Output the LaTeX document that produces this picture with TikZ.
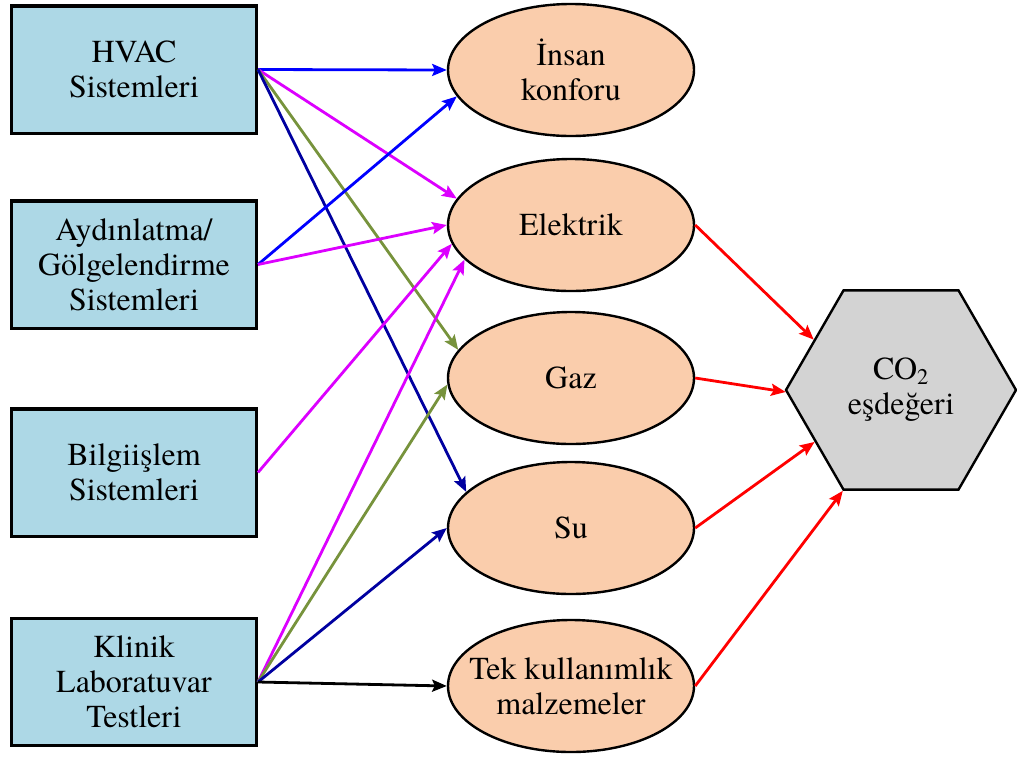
\documentclass[tikz,border=0pt]{standalone}
\usepackage{fontspec}
\setmainfont{texgyretermes}[Extension=.otf, UprightFont=*-regular]
\usetikzlibrary{shapes.geometric,arrows.meta}

\definecolor{boxblue}{RGB}{173,216,230}
\definecolor{peach}{RGB}{250,205,172}
\definecolor{hexgray}{RGB}{211,211,211}
\definecolor{linkblue}{RGB}{0,0,255}
\definecolor{linkmag}{RGB}{220,0,255}
\definecolor{linkgreen}{RGB}{119,147,60}
\definecolor{linknavy}{RGB}{0,0,160}
\definecolor{linkred}{RGB}{255,0,0}

\begin{document}
\begin{tikzpicture}[x=0.75pt,y=-0.75pt,
  font=\fontsize{24}{26.25}\selectfont,
  system/.style={rectangle, draw, line width=2.5pt, fill=boxblue,
    minimum width=183.5pt, minimum height=95.5pt, align=center},
  oval/.style={ellipse, draw, line width=1.8pt, fill=peach,
    minimum width=184.5pt, minimum height=99pt,
    inner xsep=-12pt, inner ysep=0pt, align=center},
  link/.style={-{Stealth[length=11pt,width=9pt,inset=2pt]}, line width=2.1pt}]
  \useasboundingbox (0,0) rectangle (1017,758);

  % systems
  \node[system] (hvac)   at (134,69.5)  {HVAC\\Sistemleri};
  \node[system] (aydin)  at (134,264.5) {Aydınlatma/\\Gölgelendirme\\Sistemleri};
  \node[system] (bilgi)  at (134,472.5) {Bilgiişlem\\Sistemleri};
  \node[system] (klinik) at (134,682)   {Klinik\\Laboratuvar\\Testleri};

  % resources
  \node[oval] (insan) at (571,70)  {İnsan\\konforu};
  \node[oval] (elek)  at (571,225) {Elektrik};
  \node[oval] (gaz)   at (571,378) {Gaz};
  \node[oval] (su)    at (571,528) {Su};
  \node[oval] (tek)   at (571,686) {Tek kullanımlık\\malzemeler};

  \node[regular polygon, regular polygon sides=6, draw, line width=1.8pt,
    fill=hexgray, minimum size=172.5pt, align=center]
    (co2) at (901,390) {CO\textsubscript{2}\\eşdeğeri};

  % links
  \draw[link, linkblue]  (hvac.east) -- (insan.west);
  \draw[link, linkmag]   (hvac.east) -- (elek.167);
  \draw[link, linkgreen] (hvac.east) -- (gaz.166);
  \draw[link, linknavy]  (hvac.east) -- (su.161);
  \draw[link, linkblue]  (aydin.east) -- (insan.193);
  \draw[link, linkmag]   (aydin.east) -- (elek.west);
  \draw[link, linkmag]   (bilgi.east) -- (elek.189);
  \draw[link, linkmag]   (klinik.east) -- (elek.198);
  \draw[link, linkgreen] (klinik.east) -- (gaz.183);
  \draw[link, linknavy]  (klinik.east) -- (su.west);
  \draw[link, black]     (klinik.east) -- (tek.west);

  \draw[link, linkred] (elek.east) -- (co2.150);
  \draw[link, linkred] (gaz.east)  -- (co2.181);
  \draw[link, linkred] (su.east)   -- (co2.211);
  \draw[link, linkred] (tek.east)  -- (co2.240);
\end{tikzpicture}
\end{document}
